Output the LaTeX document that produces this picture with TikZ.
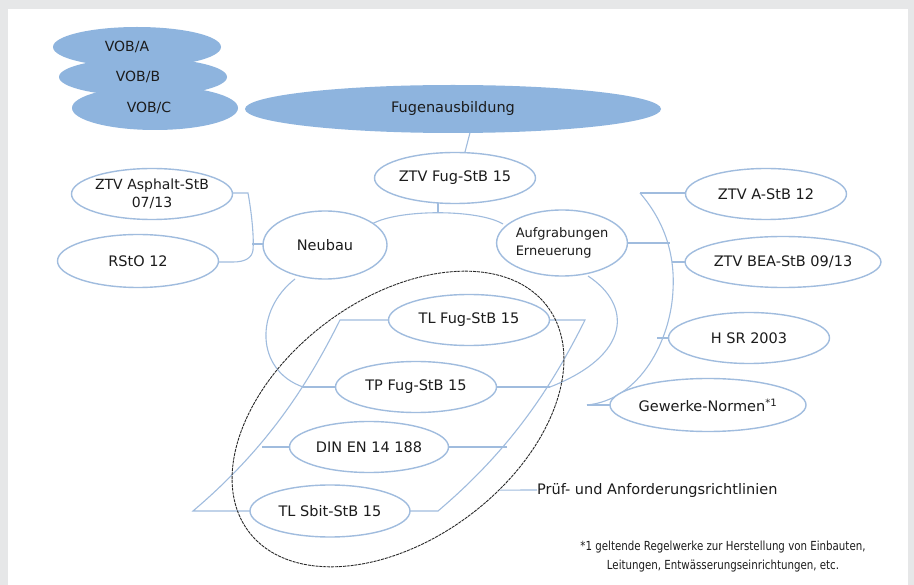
\documentclass[tikz,border=0pt]{standalone}
\usepackage{fontspec}
\setmainfont{DejaVu Sans}
\newfontfamily\condfont[FakeStretch=0.82]{DejaVu Sans}
\usetikzlibrary{shapes.geometric}
\definecolor{bgray}{RGB}{230,231,232}
\definecolor{bfill}{RGB}{142,180,222}
\definecolor{bline}{RGB}{160,188,222}
\definecolor{txt}{RGB}{28,28,28}
\begin{document}
\begin{tikzpicture}[x=1pt,y=-1pt,
  el/.style={ellipse, draw=bline, line width=1.4pt, fill=white, inner sep=0pt,
    minimum width=#1, minimum height=51pt, text=txt, align=center,
    font=\fontsize{14.5}{17}\selectfont},
  el/.default=161pt,
  vob/.style={ellipse, fill=bfill, inner sep=0pt, text=txt,
    font=\fontsize{14}{16}\selectfont},
  conn/.style={draw=bline, line width=1.1pt},
  lbl/.style={text=txt, inner sep=0pt}]
\useasboundingbox (0,0) rectangle (914,585);
\fill[bgray] (0,0) rectangle (914,585);
\fill[white] (8,9) rectangle (908,585);

% top filled shapes
\node[vob, minimum width=168pt, minimum height=40pt] (voba) at (137,47) {};
\node[vob, minimum width=168pt, minimum height=38pt] (vobb) at (143,77) {};
\node[vob, minimum width=166pt, minimum height=44pt] (vobc) at (155,108) {};
\node[lbl, font=\fontsize{14}{16}\selectfont] at (127,47) {VOB/A};
\node[lbl, font=\fontsize{14}{16}\selectfont] at (138,77) {VOB/B};
\node[lbl, font=\fontsize{14}{16}\selectfont] at (149,108) {VOB/C};
\node[vob, minimum width=416pt, minimum height=48pt, font=\fontsize{14.5}{17}\selectfont] (fug) at (453,109) {Fugenausbildung};

% coordinates
\coordinate (apex) at (438,212);
\coordinate (lbr) at (252,244);
\coordinate (ra1) at (640,193);
\coordinate (ra2) at (670,243);
\coordinate (ra3) at (672,262);
\coordinate (ra4) at (657,338);
\coordinate (ra5) at (587,405);
\coordinate (lb1) at (340,320);
\coordinate (lb2) at (303,387);
\coordinate (lb3) at (262,447);
\coordinate (lb4) at (193,511);
\coordinate (rb1) at (585,320);
\coordinate (rb2) at (550,387);
\coordinate (rb3) at (507,447);
\coordinate (rb4) at (438,511);

% connectors (drawn first)
\draw[conn] (fug.305) -- (465,152);
\draw[conn] (232,193) -- (248,193) .. controls (252,215) and (254,238) .. (253,250)
  .. controls (252,258) and (245,262) .. (233,262) -- (218,262);
\draw[conn] (lbr) -- (263,244);
\draw[conn] (372,224) .. controls (398,209) and (478,209) .. (503,224);
\draw[conn] (438,203) -- (apex);
\draw[conn] (ra1) .. controls (665,222) and (675,255) .. (673,290)
  .. controls (671,340) and (640,400) .. (ra5);
\draw[conn] (ra1) -- (686,193);
\draw[conn] (624,243) -- (ra2);
\draw[conn] (ra3) -- (706,262);
\draw[conn] (ra4) -- (669,338);
\draw[conn] (ra5) -- (628,405);
\draw[conn] (295,279) .. controls (255,310) and (255,370) .. (lb2);
\draw[conn] (588,276) .. controls (632,305) and (632,355) .. (rb2);
\draw[conn] (389,320) -- (lb1) .. controls (308.5,383) and (268.6,447) .. (lb4) -- (251,511);
\draw[conn] (549,320) -- (rb1) .. controls (553.5,383) and (513.6,447) .. (rb4) -- (409,511);
\draw[conn] (lb2) -- (336,387);
\draw[conn] (lb3) -- (290,447);
\draw[conn] (rb2) -- (496,387);
\draw[conn] (rb3) -- (447,447);

% nodes
\node[el] (ztvfug) at (455,178) {ZTV Fug-StB 15};
\node[el, font=\fontsize{14}{18}\selectfont] (zasph) at (152,194) {ZTV Asphalt-StB\\07/13};
\node[el, minimum height=53pt] (rsto) at (138,261) {RStO 12};
\node[el=124pt, minimum height=68pt] (neubau) at (325,245) {Neubau};
\node[el=126pt, minimum height=66pt, font=\fontsize{13}{18}\selectfont, align=left] (aufg) at (562,243) {Aufgrabungen\\Erneuerung};
\node[el] (ztva) at (766,194) {ZTV A-StB 12};
\node[el=157pt] (bea) at (783,262) {ZTV BEA-StB 09/13};
\node[el] (hsr) at (749,338) {H SR 2003};
\node[el, minimum height=53pt] (gew) at (708,405) {Gewerke-Normen\textsuperscript{*1}};
\node[el] (tlfug) at (469,320) {TL Fug-StB 15};
\node[el] (tpfug) at (416,387) {TP Fug-StB 15};
\node[el=159pt] (din) at (369,447) {DIN EN 14 188};
\node[el=160pt, minimum height=52pt] (tlsbit) at (330,511) {TL Sbit-StB 15};

% dashed group
\node[ellipse, draw={rgb,255:red,40;green,40;blue,40}, dash pattern=on 3pt off 0.9pt, line width=0.9pt, rotate=37,
  minimum width=374pt, minimum height=240pt, inner sep=0pt] (grp) at (398,419) {};
\node[lbl, anchor=west, font=\fontsize{14.5}{17}\selectfont] (pruef) at (537,490) {Prüf- und Anforderungsrichtlinien};
\draw[conn] (grp.-72) -- (pruef.west);

\node[lbl, align=center, font=\condfont\fontsize{12.5}{19}\selectfont] (fn) at (723,557)
  {*1 geltende Regelwerke zur Herstellung von Einbauten,\\Leitungen, Entwässerungseinrichtungen, etc.};
\end{tikzpicture}
\end{document}
